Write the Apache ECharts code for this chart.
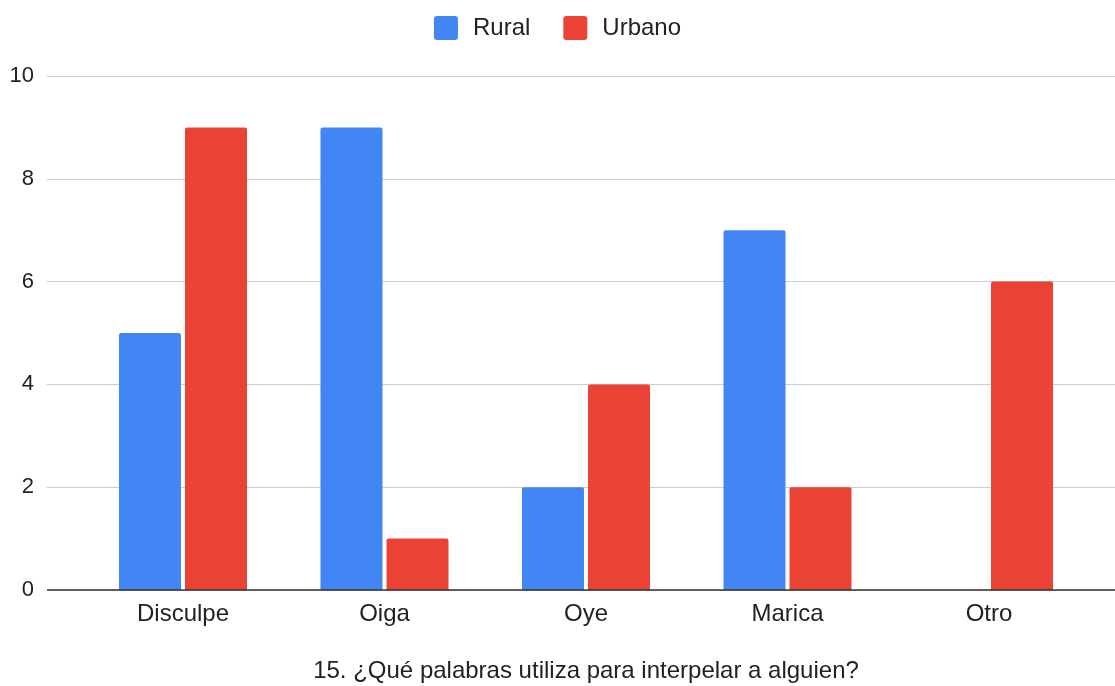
<!DOCTYPE html>
<html>
<head>
<meta charset="utf-8">
<script src="https://cdn.jsdelivr.net/npm/echarts@6/dist/echarts.min.js"></script>
<style>
html,body{margin:0;padding:0;background:#fff;}
#chart{width:1115px;height:686px;}
</style>
</head>
<body>
<div id="chart"></div>
<script>
const categories = ['Disculpe', 'Oiga', 'Oye', 'Marica', 'Otro'];
const rural = [5, 9, 2, 7, 0];
const urbano = [9, 1, 4, 2, 6];
const yTicks = [0, 2, 4, 6, 8, 10];
const titleText = '15. ¿Qué palabras utiliza para interpelar a alguien?';

const FONT = '"Liberation Sans", Arial, sans-serif';
const chart = echarts.init(document.getElementById('chart'));
chart.setOption({
  animation: false,
  textStyle: { fontFamily: FONT },
  title: {
    text: titleText,
    left: 581,
    textAlign: 'center',
    top: 654,
    textStyle: { fontFamily: FONT, fontSize: 24, fontWeight: 'normal', color: '#222' }
  },
  legend: {
    top: 11,
    left: 'center',
    itemWidth: 24,
    itemHeight: 24,
    itemGap: 33,
    icon: 'path://M3,0 H21 Q24,0 24,3 V21 Q24,24 21,24 H3 Q0,24 0,21 V3 Q0,0 3,0 Z',
    textStyle: { fontFamily: FONT, fontSize: 24, color: '#222', padding: [0, 0, 0, 10] },
    data: ['Rural', 'Urbano']
  },
  grid: [
    { left: 47, right: 0, top: 76, bottom: 96 },
    { left: 82.25, right: 25.25, top: 76, bottom: 96 }
  ],
  xAxis: [
    { type: 'category', gridIndex: 0, data: categories, show: false },
    {
      type: 'category', gridIndex: 1, data: categories,
      axisLine: { show: false },
      axisTick: { show: false },
      axisLabel: { fontFamily: FONT, fontSize: 24, color: '#222', margin: 12 }
    }
  ],
  yAxis: [
    {
      type: 'value', gridIndex: 0, min: yTicks[0], max: yTicks[yTicks.length - 1], interval: 2,
      axisLine: { show: false }, axisTick: { show: false },
      axisLabel: { fontFamily: FONT, fontSize: 22, color: '#222', margin: 13 },
      splitLine: { lineStyle: { color: '#cccccc', width: 1 } }
    },
    {
      type: 'value', gridIndex: 1, min: yTicks[0], max: yTicks[yTicks.length - 1], interval: 2,
      show: false, splitLine: { show: false }
    }
  ],
  series: [
    {
      name: 'Rural', type: 'bar', xAxisIndex: 1, yAxisIndex: 1, data: rural,
      barWidth: 62, barGap: '6.5%',
      itemStyle: { color: '#4285F4', borderRadius: [2, 2, 0, 0] }
    },
    {
      name: 'Urbano', type: 'bar', xAxisIndex: 1, yAxisIndex: 1, data: urbano,
      barWidth: 62, barGap: '6.5%',
      itemStyle: { color: '#EA4335', borderRadius: [2, 2, 0, 0] }
    },
    {
      type: 'line', xAxisIndex: 0, yAxisIndex: 0, data: [],
      markLine: {
        silent: true, symbol: 'none', label: { show: false },
        lineStyle: { color: '#333333', width: 1.5, type: 'solid' },
        data: [{ yAxis: 0 }]
      }
    }
  ]
});
</script>
</body>
</html>
